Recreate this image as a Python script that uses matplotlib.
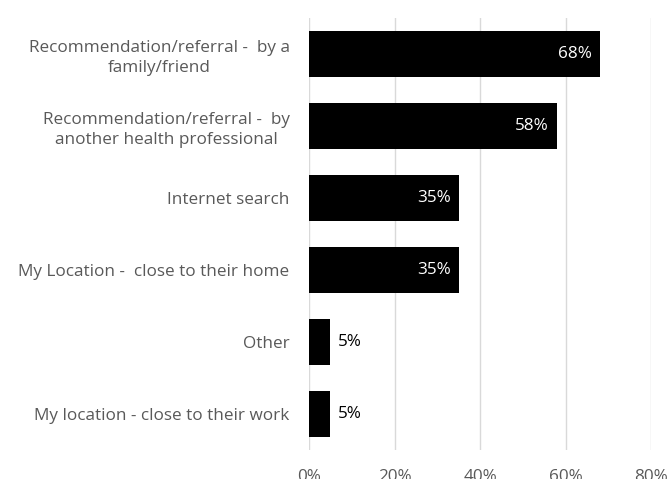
import matplotlib.pyplot as plt

plt.rcParams['font.family'] = ['Open Sans', 'DejaVu Sans']

categories = [
    "Recommendation/referral -  by a\nfamily/friend",
    "Recommendation/referral -  by\nanother health professional",
    "Internet search",
    "My Location -  close to their home",
    "Other",
    "My location - close to their work",
]
values = [68, 58, 35, 35, 5, 5]
ticks = [0, 20, 40, 60, 80]
tick_labels = ["0%", "20%", "40%", "60%", "80%"]

fs = 12.3

fig = plt.figure(figsize=(6.68, 4.79), dpi=100)
ax = fig.add_axes([0.4626, 0.0605, 0.5120, 0.9019])

pos = list(range(len(categories)))
bars = ax.barh(pos, values, height=0.65, color="black", zorder=3)

# value labels: inside (white) for long bars, outside (black) for short ones
for b, v in zip(bars, values):
    y = b.get_y() + b.get_height() / 2
    if v > 20:
        ax.text(v - 1.9, y, f"{v}%", ha="right", va="center",
                color="white", fontsize=fs, zorder=4)
    else:
        ax.text(v + 1.8, y, f"{v}%", ha="left", va="center",
                color="black", fontsize=fs, zorder=4)

ax.set_xlim(0, 80)
ax.set_ylim(len(categories) - 0.5, -0.5)
ax.set_yticks(pos)
ax.set_yticklabels(categories, fontsize=fs, color="#595959",
                   multialignment="center", linespacing=1.3)
ax.set_xticks(ticks)
ax.set_xticklabels(tick_labels, fontsize=fs, color="#595959")
ax.tick_params(axis="y", length=0, pad=14)
ax.tick_params(axis="x", length=0, pad=14)
ax.grid(axis="x", color="#d9d9d9", linewidth=1, zorder=0)
for s in ax.spines.values():
    s.set_visible(False)

fig.savefig("out.png", dpi=100)
